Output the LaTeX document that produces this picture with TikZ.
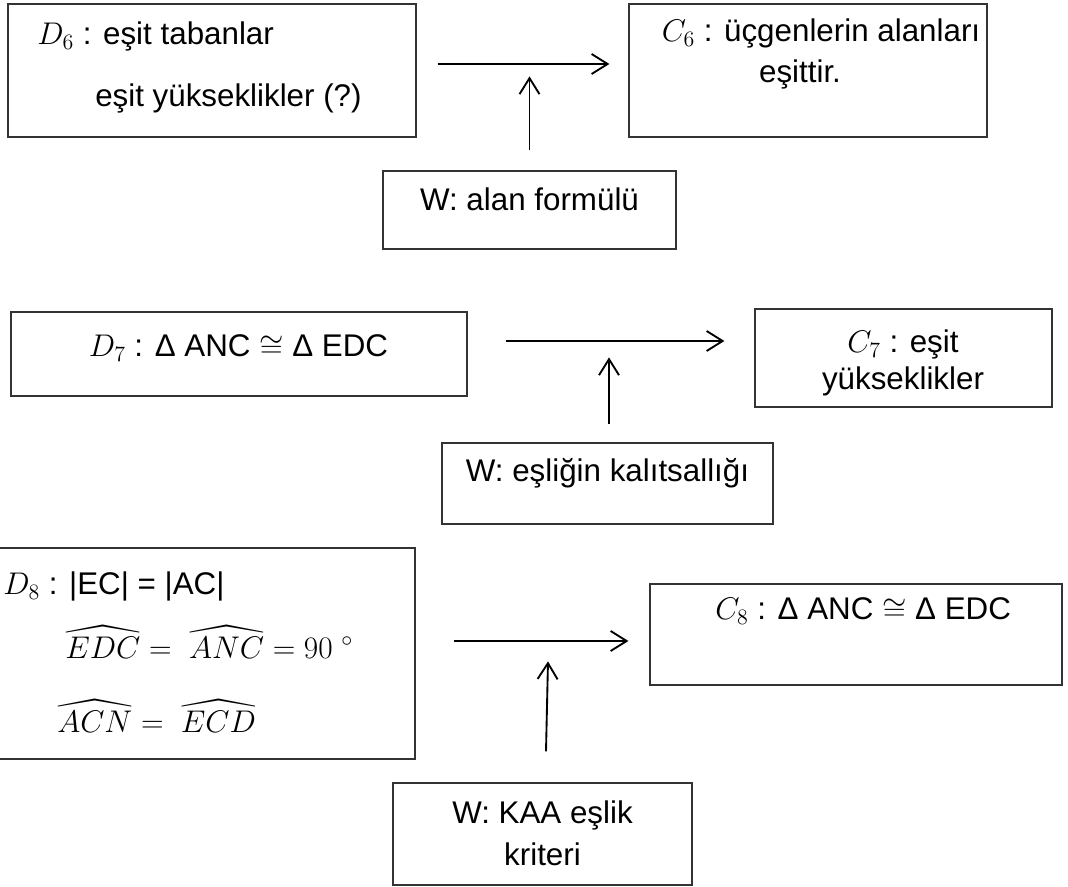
\RequirePackage{fix-cm}
\documentclass[tikz,border=0pt]{standalone}
\usepackage{amsmath,amssymb}
\usepackage{fontspec}
\setmainfont{Liberation Sans}
\usetikzlibrary{arrows.meta}

\newdimen\birim
\birim=0.75pt

\tikzset{
	kutu/.style 2 args={draw=black!80, line width=0.9pt, inner sep=0pt,
		minimum width=#1\birim, minimum height=#2\birim},
	yazi/.style={inner sep=0pt, font=\fontsize{23.5}{28}\selectfont},
	ok/.style={line width=1.4pt, -{Straight Barb[length=12pt,width=15pt]}}
}

\begin{document}
\begin{tikzpicture}[x=0.75pt, y=-0.75pt]
	\useasboundingbox (0,0) rectangle (1068,887);
	% D6 -> C6
	\node[kutu={408}{133}] (d6) at (212,70.5) {};
	\node[yazi, anchor=base west] (d6a) at (37,45) {$D_6$ : eşit tabanlar};
	\node[yazi, anchor=base west] (d6b) at (95,107) {eşit yükseklikler (?)};
	\node[kutu={358}{133}] (c6) at (808,70.5) {};
	\node[yazi, anchor=base] (c6a) at (821,42) {$C_6$ : üçgenlerin alanları};
	\node[yazi, anchor=base] (c6b) at (800,83) {eşittir.};
	\node[kutu={293}{78}] (w1) at (529.5,210) {};
	\node[yazi, anchor=base] (w1a) at (529.5,211) {W: alan formülü};
	\draw[ok] ([xshift=21\birim, yshift=6.5\birim]d6.east) -- ([xshift=-19\birim, yshift=6.5\birim]c6.west);
	\draw[ok] ([yshift=20\birim]w1.north) -- ([yshift=94\birim]w1.north);
	% D7 -> C7
	\node[kutu={456}{84}] (d7) at (239,354) {};
	\node[yazi, anchor=base] (d7a) at (238.5,357) {$D_7$ : Δ ANC $\cong$ Δ EDC};
	\node[kutu={297}{98}] (c7) at (903.5,358) {};
	\node[yazi, anchor=base] (c7a) at (903,353) {$C_7$ : eşit};
	\node[yazi, anchor=base] (c7b) at (903,390) {yükseklikler};
	\node[kutu={331}{81}] (w2) at (607.5,483.5) {};
	\node[yazi, anchor=base] (w2a) at (607.5,482) {W: eşliğin kalıtsallığı};
	\draw[ok] ([xshift=38\birim, yshift=13\birim]d7.east) -- ([xshift=-30\birim, yshift=17\birim]c7.west);
	\draw[ok] ([xshift=1.5\birim, yshift=18\birim]w2.north) -- ([xshift=1.5\birim, yshift=85\birim]w2.north);
	% D8 -> C8
	\node[kutu={420}{211}] (d8) at (205,653.5) {};
	\node[yazi, anchor=base west] (d8a) at (3,595) {$D_8$ : |EC| = |AC|};
	\node[yazi, anchor=base west] (d8b) at (65,658) {$\widehat{EDC} =\;\widehat{ANC} = 90\ ^{\circ}$};
	\node[yazi, anchor=base west] (d8c) at (57,732) {$\widehat{ACN} =\;\widehat{ECD}$};
	\node[kutu={412}{101}] (c8) at (856,634.5) {};
	\node[yazi, anchor=base west] (c8a) at (715,620) {$C_8$ : Δ ANC $\cong$ Δ EDC};
	\node[kutu={299}{102}] (w3) at (542.5,834) {};
	\node[yazi, anchor=base] (w3a) at (542.5,823) {W: KAA eşlik};
	\node[yazi, anchor=base] (w3b) at (542.5,865) {kriteri};
	\draw[ok] ([xshift=38\birim, yshift=12.5\birim]d8.east) -- ([xshift=-21\birim, yshift=-6.5\birim]c8.west);
	\draw[ok] ([xshift=3.5\birim, yshift=31\birim]w3.north) -- ([xshift=5.5\birim, yshift=121\birim]w3.north);
\end{tikzpicture}
\end{document}
